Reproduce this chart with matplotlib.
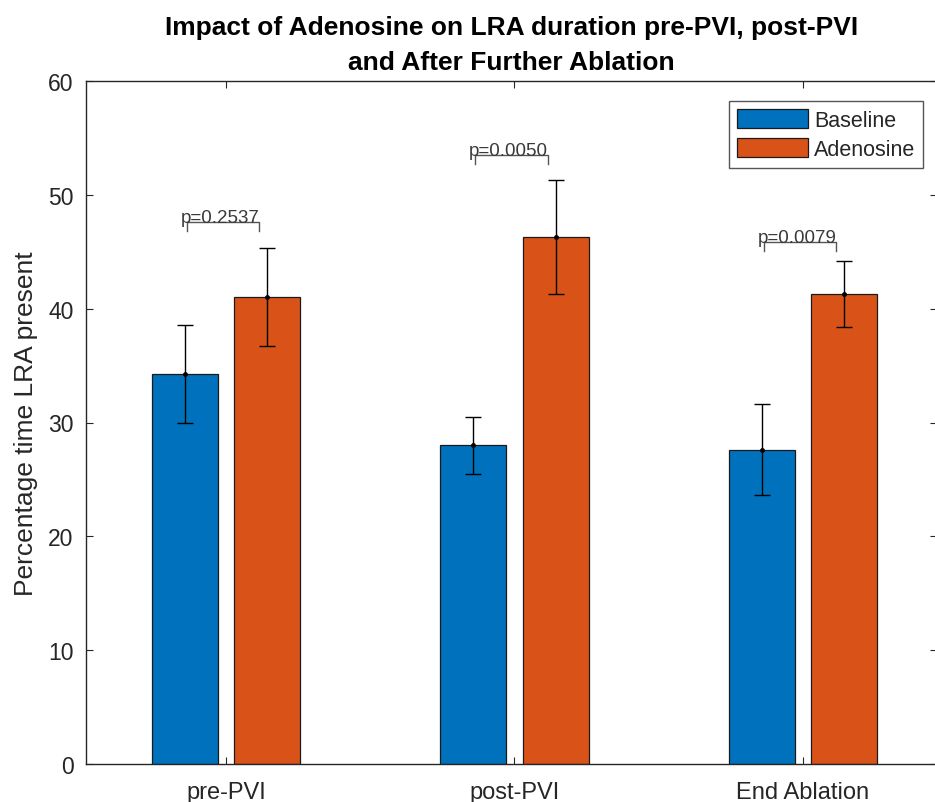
import numpy as np
import matplotlib.pyplot as plt

plt.rcParams['font.family'] = ['Liberation Sans', 'DejaVu Sans']

groups = ['pre-PVI', 'post-PVI', 'End Ablation']
baseline = [34.3, 28.0, 27.6]
baseline_err = [4.3, 2.5, 4.0]
adenosine = [41.0, 46.3, 41.3]
adenosine_err = [4.3, 5.0, 2.9]
p_labels = ['p=0.2537', 'p=0.0050', 'p=0.0079']
p_heights = [47.6, 53.5, 45.9]

blue = '#0072BD'
orange = '#D95319'
axcol = '#262626'

fig = plt.figure(figsize=(9.35, 8.03), dpi=100)
ax = fig.add_axes([86 / 935, 38 / 803, 851 / 935, 683 / 803])

x = np.arange(1, len(groups) + 1)
off = 0.143
w = 0.229

ax.bar(x - off, baseline, w, color=blue, edgecolor='#1a1a1a', linewidth=0.9,
       label='Baseline', zorder=2)
ax.bar(x + off, adenosine, w, color=orange, edgecolor='#1a1a1a', linewidth=0.9,
       label='Adenosine', zorder=2)

ax.errorbar(x - off, baseline, yerr=baseline_err, fmt='.', color='k', ms=5,
            elinewidth=1, capsize=6, capthick=1, zorder=3)
ax.errorbar(x + off, adenosine, yerr=adenosine_err, fmt='.', color='k', ms=5,
            elinewidth=1, capsize=6, capthick=1, zorder=3)

# significance brackets with p-values sitting on them
half = 0.125
leg = 0.8
for xi, h, lab in zip(x, p_heights, p_labels):
    xc = xi - 0.01
    ax.plot([xc - half, xc - half, xc + half, xc + half],
            [h - leg, h, h, h - leg], color='#555555', lw=1, zorder=3)
    ax.text(xc - 0.01, h, lab, ha='center', va='baseline', fontsize=13.5,
            color='#3a3a3a', zorder=4)

ax.set_xlim(0.515, 3.465)
ax.set_ylim(0, 60)
ax.set_yticks(np.arange(0, 61, 10))
ax.set_xticks(x)
ax.set_xticklabels(groups)
ax.tick_params(axis='both', direction='in', length=5, width=0.8, colors=axcol,
               top=True, right=True)
ax.tick_params(axis='x', pad=12, labelsize=17)
ax.tick_params(axis='y', pad=9, labelsize=16.5)
for s in ax.spines.values():
    s.set_color(axcol)
    s.set_linewidth(1)
ax.spines['right'].set_visible(False)

ax.set_ylabel('Percentage time LRA present', fontsize=19, color=axcol, labelpad=7)
ax.set_title('Impact of Adenosine on LRA duration pre-PVI, post-PVI\nand After Further Ablation',
             fontsize=19, fontweight='bold', color='k', pad=9, linespacing=1.55)

lg = ax.legend(loc='upper right', bbox_to_anchor=((923 - 86) / 851, (765 - 102) / 683),
               borderaxespad=0, fontsize=15.5, fancybox=False, framealpha=1,
               edgecolor='#555555', handlelength=3.3, handleheight=1.0,
               handletextpad=0.3, labelspacing=0.35, borderpad=0.35)
lg.get_frame().set_linewidth(1)
for t in lg.get_texts():
    t.set_color(axcol)

fig.savefig('out.png', dpi=100)
